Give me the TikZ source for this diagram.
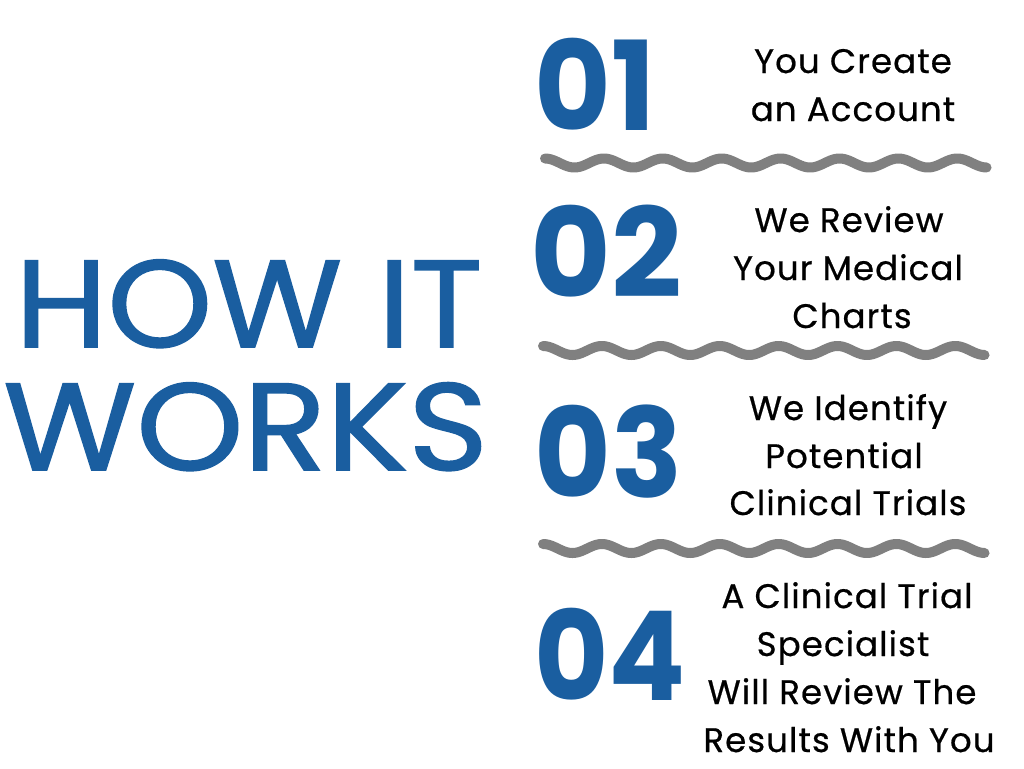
\documentclass[tikz,border=0pt]{standalone}
\usepackage{fontspec}
\setmainfont{Poppins}
\newfontfamily\titlefont[FakeBold=1.2]{Poppins}
\newfontfamily\stepfont[FakeBold=0.6,LetterSpace=3.2]{Poppins}
\definecolor{howblue}{RGB}{26,94,160}
\definecolor{wavegray}{RGB}{128,128,128}
\begin{document}
\begin{tikzpicture}[x=1pt,y=-1pt,
  title/.style={inner sep=0pt, anchor=base west, text=howblue, font=\fontsize{124}{124}\titlefont},
  num/.style={inner sep=0pt, anchor=base west, text=howblue, font=\fontsize{124}{124}\selectfont\bfseries},
  stepline/.style={inner sep=0pt, anchor=base, text=black, font=\fontsize{34}{48}\stepfont},
  wave/.style={draw=wavegray, line width=10pt, line cap=round, line join=round}]
\useasboundingbox (0,0) rectangle (1024,768);
\fill[white] (0,0) rectangle (1024,768);
% title
\node[title] (how) at (15,347) {\scalebox{1.075}[1]{HOW IT}};
\node[title] (works) at (3,470) {\scalebox{1.10}[1]{WORKS}};
% numbers
\node[num] (n1) at (534,130) {\scalebox{0.95}[1]{01}};
\node[num] (n2) at (530,297) {\scalebox{1.0}[1]{02}};
\node[num] (n3) at (534,497) {\scalebox{0.95}[1]{03}};
\node[num] (n4) at (534,700) {\scalebox{0.92}[1]{04}};
% step texts
\node[stepline] (a1) at (853,73) {You Create};
\node[stepline] (a2) at (853,121) {an Account};
\node[stepline] (b1) at (849,232) {We Review};
\node[stepline] (b2) at (848,280) {Your Medical};
\node[stepline] (b3) at (852,328) {Charts};
\node[stepline] (c1) at (848,420) {We Identify};
\node[stepline] (c2) at (844,468) {Potential};
\node[stepline] (c3) at (848,515) {Clinical Trials};
\node[stepline] (d1) at (847,608) {A Clinical Trial};
\node[stepline] (d2) at (843,656) {Specialist};
\node[stepline] (d3) at (842,704) {Will Review The};
\node[stepline] (d4) at (849,752) {Results With You};
% waves
\draw[wave] plot[domain=0:7.5, samples=300] ({545+\x*58.9},{163-4.5*cos(360*\x)});
\draw[wave] plot[domain=0:7.5, samples=300] ({543+\x*58.9},{350.5-4.5*cos(360*\x)});
\draw[wave] plot[domain=0:7.5, samples=300] ({543+\x*58.9},{548.5-4.5*cos(360*\x)});
\end{tikzpicture}
\end{document}
